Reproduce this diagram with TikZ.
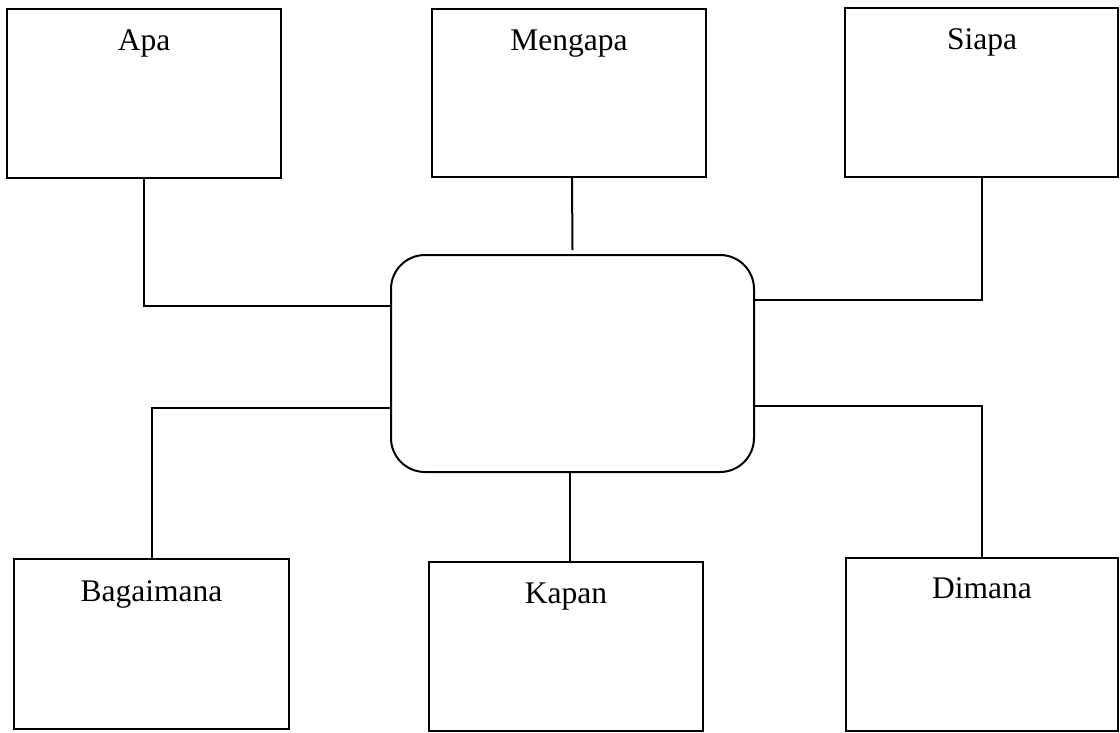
\documentclass[tikz,border=0pt]{standalone}
\usepackage{fontspec}
\setmainfont{Liberation Serif}
\begin{document}
\begin{tikzpicture}[x=1pt,y=-1pt,
  box/.style={draw, line width=2pt, rectangle, inner sep=0pt},
  hub/.style={draw, line width=2pt, rectangle, rounded corners=34pt, inner sep=0pt},
  lbl/.style={anchor=base, inner sep=0pt, font=\fontsize{31.5}{38}\selectfont},
  link/.style={line width=2pt}]
\useasboundingbox[fill=white] (0,0) rectangle (1120,732);
% boxes
\node[box, minimum width=274pt, minimum height=169pt] (apa) at (144,93.5) {};
\node[box, minimum width=274pt, minimum height=168pt] (mengapa) at (569,93) {};
\node[box, minimum width=273pt, minimum height=169pt] (siapa) at (981.5,92.5) {};
\node[box, minimum width=275pt, minimum height=170pt] (bagaimana) at (151.5,644) {};
\node[box, minimum width=274pt, minimum height=169pt] (kapan) at (566,646.5) {};
\node[box, minimum width=272pt, minimum height=173pt] (dimana) at (982,644.5) {};
\node[hub, minimum width=363pt, minimum height=217pt] (center) at (572.5,363.5) {};
% labels
\node[lbl] (tApa) at (144,50) {Apa};
\node[lbl] (tMengapa) at (569,50) {Mengapa};
\node[lbl] (tSiapa) at (982,49) {Siapa};
\node[lbl] (tBagaimana) at (151.5,601) {Bagaimana};
\node[lbl] (tKapan) at (566,603) {Kapan};
\node[lbl] (tDimana) at (982,598) {Dimana};
% connectors
\draw[link] (apa.south) |- ([yshift=57.5pt]center.west);
\draw[link] ([xshift=3pt]mengapa.south) -- ([yshift=4pt]center.north);
\draw[link] (siapa.south) |- ([yshift=63.5pt]center.east);
\draw[link] ([yshift=-44.5pt]center.west) -| (bagaimana.north);
\draw[link] ([xshift=-2.5pt]center.south) -- ([xshift=4pt]kapan.north);
\draw[link] ([yshift=-42.5pt]center.east) -| (dimana.north);
\end{tikzpicture}
\end{document}
